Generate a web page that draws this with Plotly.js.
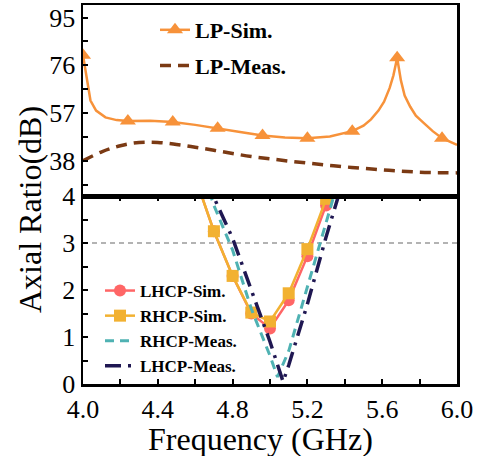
<!DOCTYPE html>
<html>
<head>
<meta charset="utf-8">
<script src="https://cdn.plot.ly/plotly-3.0.1.min.js"></script>
<style>
  html, body { margin: 0; padding: 0; background: #fff; }
  #chart { width: 489px; height: 456px; }
</style>
</head>
<body>
<div id="chart"></div>
<script>
// ---- Top panel: LP axial ratio (dB) ----
const lpSimFreq = [4.00, 4.02, 4.04, 4.07, 4.12, 4.18, 4.24, 4.36, 4.48, 4.60, 4.72, 4.84, 4.96, 5.08, 5.20, 5.32, 5.44, 5.50, 5.54, 5.58, 5.61, 5.64, 5.66, 5.68, 5.70, 5.72, 5.75, 5.78, 5.82, 5.87, 5.92, 5.96, 6.00];
const lpSimAR   = [80.0, 70.0, 62.0, 58.0, 55.3, 54.2, 53.8, 53.9, 53.4, 52.3, 51.0, 49.5, 48.1, 47.3, 47.0, 47.7, 49.8, 52.0, 54.5, 58.0, 61.5, 67.0, 72.0, 79.0, 70.0, 64.0, 59.5, 56.0, 53.2, 49.8, 47.0, 45.6, 44.3];
const lpSimMarkerFreq = [4.00, 4.24, 4.48, 4.72, 4.96, 5.20, 5.44, 5.68, 5.92];

const lpMeasFreq = [4.0, 4.1, 4.2, 4.3, 4.4, 4.5, 4.6, 4.7, 4.8, 4.9, 5.0, 5.1, 5.2, 5.3, 5.4, 5.5, 5.6, 5.7, 5.8, 5.9, 6.0];
const lpMeasAR   = [38.0, 41.6, 44.0, 45.3, 45.3, 44.5, 43.4, 42.2, 40.9, 39.7, 38.8, 37.9, 37.1, 36.3, 35.6, 35.0, 34.4, 33.9, 33.5, 33.3, 33.2];

// ---- Bottom panel: CP axial ratio (dB) ----
const cpSimFreq = [4.6, 4.7, 4.8, 4.9, 5.0, 5.1, 5.2, 5.3, 5.4];
const lhcpSimAR = [4.4, 3.25, 2.30, 1.50, 1.18, 1.78, 2.72, 3.80, 4.9];
const rhcpSimAR = [4.4, 3.25, 2.30, 1.52, 1.33, 1.93, 2.87, 3.94, 5.0];

const rhcpMeasFreq = [4.6, 4.7, 4.8, 4.9, 5.0, 5.04, 5.1, 5.2, 5.3, 5.4];
const rhcpMeasAR   = [5.0, 3.8, 2.85, 1.6, 0.6, 0.15, 0.7, 2.05, 3.45, 4.8];
const lhcpMeasFreq = [4.6, 4.7, 4.8, 4.9, 5.0, 5.07, 5.1, 5.2, 5.3, 5.4];
const lhcpMeasAR   = [5.0, 3.97, 3.1, 2.0, 0.9, 0.05, 0.4, 1.7, 3.13, 4.45];

const threshold = 3;

const xTicks = ['4.0', '4.4', '4.8', '5.2', '5.6', '6.0'];

// ---- styling ----
const SERIF = '"Liberation Serif", "Times New Roman", serif';
const C_LPSIM = '#F7923A';
const C_LPMEAS = '#7B3A14';
const C_LHCPSIM = '#FF6666';
const C_RHCPSIM = '#F2B131';
const C_RHCPMEAS = '#4FB2B3';
const C_LHCPMEAS = '#1F1752';

const lpMarkerColors = lpSimFreq.map(f =>
  lpSimMarkerFreq.some(m => Math.abs(m - f) < 1e-6) ? C_LPSIM : 'rgba(0,0,0,0)');

const traces = [
  {
    x: lpSimFreq, y: lpSimAR, xaxis: 'x2', yaxis: 'y2',
    type: 'scatter', mode: 'lines+markers', name: 'LP-Sim.',
    line: {color: C_LPSIM, width: 2.5},
    marker: {symbol: 'triangle-up', size: 14, color: lpMarkerColors},
    legend: 'legend', legendgroup: 'a'
  },
  {
    x: lpMeasFreq, y: lpMeasAR, xaxis: 'x2', yaxis: 'y2',
    type: 'scatter', mode: 'lines', name: 'LP-Meas.',
    line: {color: C_LPMEAS, width: 3.5, dash: '11px,7px', shape: 'spline'},
    legend: 'legend', legendgroup: 'b'
  },
  {
    x: cpSimFreq, y: lhcpSimAR, xaxis: 'x', yaxis: 'y',
    type: 'scatter', mode: 'lines+markers', name: 'LHCP-Sim.',
    line: {color: C_LHCPSIM, width: 2.5},
    marker: {symbol: 'circle', size: 12, color: C_LHCPSIM},
    legend: 'legend2'
  },
  {
    x: cpSimFreq, y: rhcpSimAR, xaxis: 'x', yaxis: 'y',
    type: 'scatter', mode: 'lines+markers', name: 'RHCP-Sim.',
    line: {color: C_RHCPSIM, width: 2.5},
    marker: {symbol: 'square', size: 12, color: C_RHCPSIM},
    legend: 'legend2'
  },
  {
    x: rhcpMeasFreq, y: rhcpMeasAR, xaxis: 'x', yaxis: 'y',
    type: 'scatter', mode: 'lines', name: 'RHCP-Meas.',
    line: {color: C_RHCPMEAS, width: 3, dash: '9px,6px'},
    legend: 'legend2'
  },
  {
    x: lhcpMeasFreq, y: lhcpMeasAR, xaxis: 'x', yaxis: 'y',
    type: 'scatter', mode: 'lines', name: 'LHCP-Meas.',
    line: {color: C_LHCPMEAS, width: 3.5, dash: '16px,7px,3px,7px'},
    legend: 'legend2'
  }
];

const axisCommon = {
  showline: true, linecolor: '#000', linewidth: 2.5,
  showgrid: false, zeroline: false,
  tickfont: {family: SERIF, size: 26, color: '#000'},
  tickcolor: '#000'
};

const L = 83, R = 457, T = 5, B = 384;
const splitPx = 196;
const split = (B - splitPx) / (B - T);

const layout = {
  width: 489, height: 456,
  margin: {l: L, r: 489 - R, t: T, b: 456 - B},
  paper_bgcolor: '#fff', plot_bgcolor: '#fff',
  font: {family: SERIF, color: '#000'},
  xaxis: Object.assign({}, axisCommon, {
    domain: [0, 1], anchor: 'y', range: [4, 6],
    tickmode: 'array', tickvals: xTicks.map(Number), ticktext: xTicks,
    ticks: 'inside', ticklen: 5, tickwidth: 2, mirror: 'ticks',
    minor: {dtick: 0.2, tick0: 4, ticks: 'inside', ticklen: 5, tickwidth: 2, tickcolor: '#000'}
  }),
  xaxis2: Object.assign({}, axisCommon, {
    domain: [0, 1], anchor: 'y2', range: [4, 6], matches: 'x',
    ticks: '', showticklabels: false, mirror: true
  }),
  yaxis: Object.assign({}, axisCommon, {
    domain: [0, split], anchor: 'x', range: [0, 4],
    tickmode: 'linear', tick0: 0, dtick: 1,
    ticks: 'inside', ticklen: 5, tickwidth: 2, mirror: true,
    minor: {dtick: 0.5, tick0: 0, ticks: 'inside', ticklen: 5, tickwidth: 2, tickcolor: '#000'}
  }),
  yaxis2: Object.assign({}, axisCommon, {
    domain: [split, 1], anchor: 'x2', range: [24, 100],
    tickmode: 'linear', tick0: 38, dtick: 19,
    ticks: 'inside', ticklen: 5, tickwidth: 2, mirror: true,
    minor: {dtick: 9.5, tick0: 38, ticks: 'inside', ticklen: 5, tickwidth: 2, tickcolor: '#000'}
  }),
  legend: {
    x: (155 - L) / (R - L), y: (B - 9) / (B - T), xanchor: 'left', yanchor: 'top',
    bgcolor: 'rgba(0,0,0,0)', borderwidth: 0,
    font: {family: SERIF, size: 22, color: '#000', weight: 'bold'},
    traceorder: 'grouped', tracegroupgap: 4
  },
  legend2: {
    x: (100 - L) / (R - L), y: (B - 273) / (B - T), xanchor: 'left', yanchor: 'top',
    bgcolor: 'rgba(0,0,0,0)', borderwidth: 0,
    font: {family: SERIF, size: 17, color: '#000', weight: 'bold'},
    tracegroupgap: 0
  },
  shapes: [
    {type: 'line', xref: 'x domain', yref: 'y', x0: 0, x1: 1, y0: threshold, y1: threshold,
     line: {color: '#9a9a9a', width: 1.5, dash: '5px,4px'}, layer: 'below'}
  ],
  annotations: [
    {text: 'Axial Ratio(dB)', xref: 'paper', yref: 'paper',
     x: (30 - L) / (R - L), y: (B - 210) / (B - T), xanchor: 'center', yanchor: 'middle',
     textangle: -90, showarrow: false, font: {family: SERIF, size: 32, color: '#000'}},
    {text: 'Frequency (GHz)', xref: 'paper', yref: 'paper',
     x: (260 - L) / (R - L), y: (B - 439) / (B - T), xanchor: 'center', yanchor: 'middle',
     showarrow: false, font: {family: SERIF, size: 32, color: '#000'}}
  ],
  showlegend: true
};

Plotly.newPlot('chart', traces, layout, {staticPlot: true, displayModeBar: false});
</script>
</body>
</html>
